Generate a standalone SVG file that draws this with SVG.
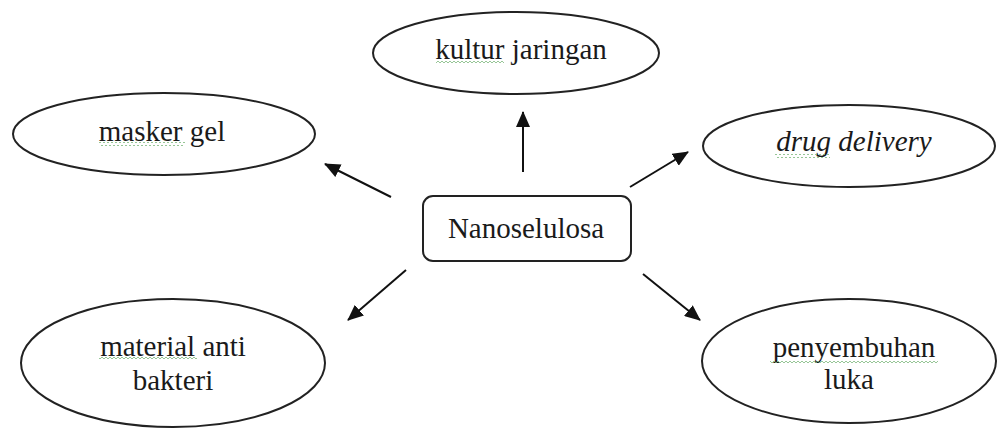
<svg xmlns="http://www.w3.org/2000/svg" width="998" height="430" viewBox="0 0 998 430">
<style>
.shape { fill: #fff; stroke: #222; stroke-width: 2; }
.lbl { font-family: "Liberation Serif", "Times New Roman", serif; font-size: 29px; fill: #1a1a1a; text-anchor: middle; }
.conn line { stroke: #111; stroke-width: 2; marker-end: url(#ah); }
.wavy { fill: url(#wavy); stroke: none; }
</style>
<defs>
<marker id="ah" viewBox="0 0 16 14" refX="15" refY="7" markerWidth="16" markerHeight="14" markerUnits="userSpaceOnUse" orient="auto">
<path d="M0,0 L16,7 L0,14 z" fill="#111"/>
</marker>
<pattern id="wavy" width="4" height="4" patternUnits="userSpaceOnUse">
<path d="M0,3 L2,1 L4,3" fill="none" stroke="#7cb87c" stroke-width="0.8"/>
</pattern>
</defs>
<rect width="998" height="430" fill="#fff"/>
<g class="conn" id="connectors">
<line x1="523" y1="172" x2="523" y2="112"/>
<line x1="391" y1="197" x2="325" y2="164"/>
<line x1="630" y1="187" x2="688" y2="152"/>
<line x1="406" y1="270" x2="348" y2="320"/>
<line x1="643" y1="274" x2="700" y2="320"/>
</g>
<g id="n-kultur">
<ellipse class="shape" cx="516" cy="53" rx="143" ry="41"/>
<text class="lbl" x="521" y="59">kultur jaringan</text>
<rect class="wavy" x="436" y="61" width="68" height="4"/>
</g>
<g id="n-masker">
<ellipse class="shape" cx="164" cy="134" rx="151" ry="41"/>
<text class="lbl" x="162" y="141">masker gel</text>
<rect class="wavy" x="99" y="142" width="86" height="4"/>
</g>
<g id="n-drug">
<ellipse class="shape" cx="849" cy="146" rx="146" ry="41"/>
<text class="lbl" x="854" y="151" font-style="italic">drug delivery</text>
<rect class="wavy" x="775" y="154" width="55" height="4"/>
</g>
<g id="n-nano">
<rect class="shape" x="423" y="196" width="208" height="65" rx="10" ry="10"/>
<text class="lbl" x="526" y="238">Nanoselulosa</text>
</g>
<g id="n-material">
<ellipse class="shape" cx="173" cy="363" rx="152" ry="64"/>
<text class="lbl" x="173" y="356">material anti</text>
<text class="lbl" x="173" y="390">bakteri</text>
<rect class="wavy" x="99" y="357" width="98" height="4"/>
</g>
<g id="n-penyembuhan">
<ellipse class="shape" cx="849" cy="361" rx="147" ry="62"/>
<text class="lbl" x="854" y="357">penyembuhan</text>
<text class="lbl" x="849" y="389">luka</text>
<rect class="wavy" x="770" y="359" width="168" height="4"/>
</g>
</svg>
